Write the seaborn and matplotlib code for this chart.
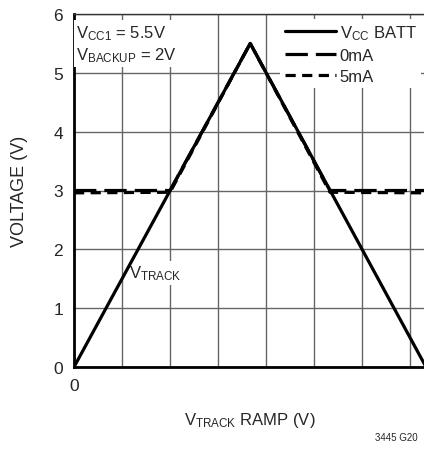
import matplotlib
matplotlib.use('Agg')
import matplotlib.pyplot as plt
import pandas as pd
import seaborn as sns

# Data (x in grid divisions)
ramp_x = [0, 3.67, 7.33]
vtrack = [0, 5.5, 0]
out_x = [0, 2.0, 3.67, 5.33, 7.33]
out_0ma = [3.0, 3.0, 5.5, 3.0, 3.0]
out_5ma = [2.96, 2.97, 5.5, 2.97, 2.96]
y_ticks = [0, 1, 2, 3, 4, 5, 6]

sns.set_style('white')
plt.rcParams['font.family'] = ['Liberation Sans Narrow', 'Liberation Sans', 'DejaVu Sans']
plt.rcParams['mathtext.fontset'] = 'custom'
plt.rcParams['mathtext.rm'] = 'Liberation Sans'
plt.rcParams['mathtext.it'] = 'Liberation Sans'

fig = plt.figure(figsize=(4.24, 4.52), dpi=100)
ax = fig.add_axes([74 / 424, 84 / 452, 352 / 424, 353 / 452])

df_track = pd.DataFrame({'x': ramp_x, 'y': vtrack})
df_0 = pd.DataFrame({'x': out_x, 'y': out_0ma})
df_5 = pd.DataFrame({'x': out_x, 'y': out_5ma})

sns.lineplot(data=df_0, x='x', y='y', ax=ax, color='black', lw=2.3,
             label='0mA', zorder=3)
ax.lines[-1].set_dashes([7, 2.5])
sns.lineplot(data=df_5, x='x', y='y', ax=ax, color='black', lw=2.3,
             label='5mA', zorder=3)
ax.lines[-1].set_dashes([3.2, 2])
sns.lineplot(data=df_track, x='x', y='y', ax=ax, color='black', lw=2.3,
             label=r'V$_{\mathrm{CC}}$ BATT', zorder=4)

ax.set_xlim(0, 7.33)
ax.set_ylim(0, 6)
ax.set_xticks(range(0, 8))
ax.set_xticklabels(['0'] + [''] * 7)
ax.set_yticks(y_ticks)
ax.set_yticklabels([str(v) for v in y_ticks])
ax.tick_params(length=0, labelsize=12.5, pad=8)
ax.grid(True, color='#666666', lw=1)
ax.set_axisbelow(True)

for s in ['left', 'bottom']:
    ax.spines[s].set_linewidth(2)
    ax.spines[s].set_color('black')
ax.spines['top'].set_linewidth(1)
ax.spines['top'].set_color('#333333')
ax.spines['right'].set_visible(False)

ax.set_xlabel(r'V$_{\mathrm{TRACK}}$ RAMP (V)', fontsize=12, labelpad=12)
ax.set_ylabel('VOLTAGE (V)', fontsize=13, labelpad=18)

handles, labels = ax.get_legend_handles_labels()
order = [2, 0, 1]
leg = ax.legend([handles[i] for i in order], [labels[i] for i in order],
                loc='upper right', bbox_to_anchor=(1.0, 1.0), fontsize=12,
                handlelength=3.1, handletextpad=0.2, labelspacing=0.35,
                frameon=True, framealpha=1, edgecolor='white', borderpad=0.25,
                borderaxespad=0.3)
leg.get_frame().set_linewidth(0)

ax.text(0.05, 5.85, r'V$_{\mathrm{CC1}}$ = 5.5V' + '\n' + r'V$_{\mathrm{BACKUP}}$ = 2V',
        fontsize=12, va='top', ha='left', linespacing=1.25,
        bbox=dict(facecolor='white', edgecolor='none', pad=2))
ax.text(1.15, 1.6, r'V$_{\mathrm{TRACK}}$', fontsize=12, va='center', ha='left',
        bbox=dict(facecolor='white', edgecolor='none', pad=2))

fig.text(0.985, 0.02, '3445 G20', fontsize=7, ha='right', va='bottom')

fig.savefig('out.png', dpi=100)
